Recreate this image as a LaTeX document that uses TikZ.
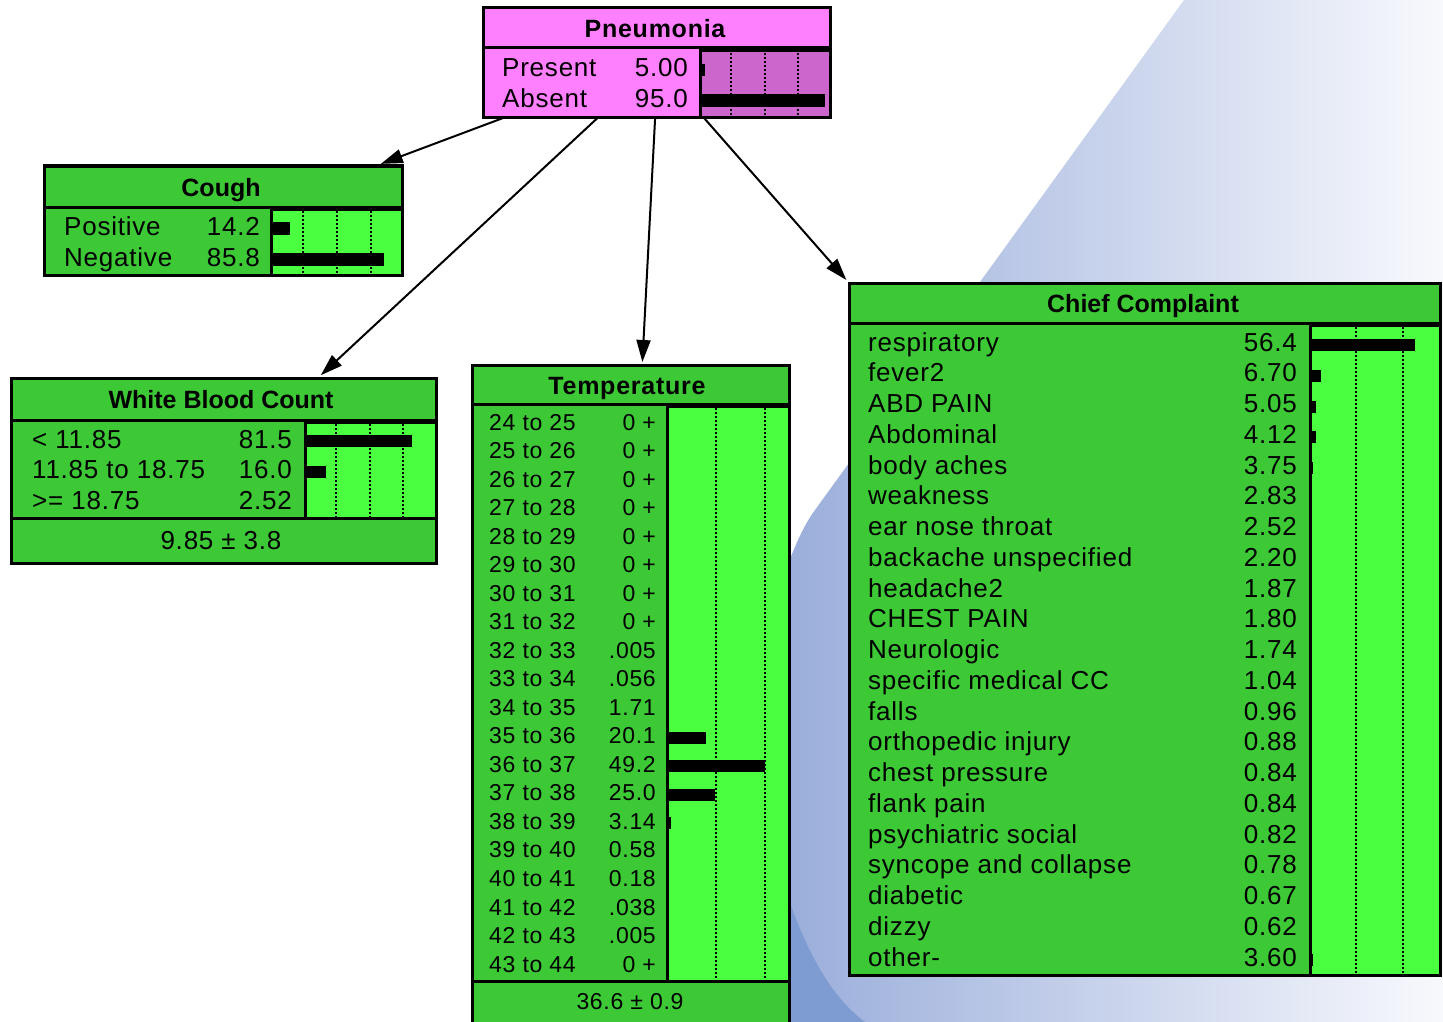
\documentclass[tikz,border=0pt]{standalone}
\usepackage{fontspec}
\setmainfont{Liberation Sans}
\newfontfamily\netfont[LetterSpace=3]{Liberation Sans}
\newfontfamily\wideft[LetterSpace=3]{Liberation Sans}
\usepackage{tikz}
\usetikzlibrary{arrows.meta,calc}

\definecolor{ndgreen}{RGB}{61,201,54}
\definecolor{bargreen}{RGB}{74,255,64}
\definecolor{ndpink}{RGB}{255,128,255}
\definecolor{barpink}{RGB}{204,102,204}
\definecolor{bgblue}{RGB}{142,164,214}
\definecolor{bgdark}{RGB}{126,156,210}
\definecolor{bgwhite}{RGB}{248,249,253}

\begin{document}
\begin{tikzpicture}[x=1pt,y=-1pt,>={Triangle[length=22pt,width=14pt]},
  nbox/.style={draw,line width=3pt,anchor=north west,inner sep=0pt,outer sep=0pt},
  ttl/.style={font=\fontsize{25}{27}\selectfont\bfseries,anchor=base,inner sep=0pt},
  wttl/.style={font=\wideft\fontsize{25}{27}\selectfont\bfseries,anchor=base,inner sep=0pt},
  lab/.style={font=\netfont\fontsize{26}{28}\selectfont,anchor=base west,inner sep=0pt},
  val/.style={font=\netfont\fontsize{26}{28}\selectfont,anchor=base east,inner sep=0pt},
  mean/.style={font=\netfont\fontsize{26}{28}\selectfont,anchor=base,inner sep=0pt},
  small/.style={font=\netfont\fontsize{23}{25}\selectfont},
  sepl/.style={line width=3pt},
  barbox/.style={line width=3pt},
  tick/.style={line width=2pt,dash pattern=on 2pt off 2pt},
  link/.style={->,line width=2pt}]
  \useasboundingbox (0,0) rectangle (1443,1022);
  % backdrop
  \shade[left color=bgblue,right color=bgwhite] (1184,0) -- (815,510)
    .. controls (770,570) and (720,800) .. (700,1022) -- (1443,1022) -- (1443,0) -- cycle;
  \fill[bgdark] (789,900) .. controls (810,960) and (835,1000) .. (865,1022) -- (700,1022) -- cycle;

  % Pneumonia
  \node[nbox,fill=ndpink,minimum width=347pt,minimum height=110pt] (pneu) at (483,8) {};
  \draw[sepl] (483,48) -- (830,48);
  \draw[barbox,fill=barpink] (700,51) rectangle (830,118);
  \foreach \x in {731,765,798} \draw[tick] (\x,53) -- (\x,117);
  \fill (700,64) rectangle (705,76);
  \fill (700,94) rectangle (825,107);
  \node[wttl] (pneu-t) at (655,38) {Pneumonia};
  \node[lab] (pneu-l0) at (502,77) {Present};
  \node[val] (pneu-v0) at (688,77) {5.00};
  \node[lab] (pneu-l1) at (502,108) {Absent};
  \node[val] (pneu-v1) at (688,108) {95.0};

  % Cough
  \node[nbox,fill=ndgreen,minimum width=358pt,minimum height=109pt] (cough) at (44,166) {};
  \draw[sepl] (44,207) -- (402,207);
  \draw[barbox,fill=bargreen] (271,209) rectangle (402,275);
  \foreach \x in {303,337,371} \draw[tick] (\x,211) -- (\x,274);
  \fill (271,222) rectangle (290,235);
  \fill (271,253) rectangle (384,266);
  \node[ttl] (cough-t) at (221,196) {Cough};
  \node[lab] (cough-l0) at (64,235) {Positive};
  \node[val] (cough-v0) at (260,235) {14.2};
  \node[lab] (cough-l1) at (64,266) {Negative};
  \node[val] (cough-v1) at (260,266) {85.8};

  % White Blood Count
  \node[nbox,fill=ndgreen,minimum width=425pt,minimum height=185pt] (wbc) at (11,378) {};
  \draw[sepl] (11,420) -- (436,420);
  \draw[barbox,fill=bargreen] (305,422) rectangle (436,518);
  \foreach \x in {336,370,403} \draw[tick] (\x,424) -- (\x,517);
  \fill (305,435) rectangle (412,447);
  \fill (305,466) rectangle (326,478);
  \draw[sepl] (11,518) -- (436,518);
  \node[ttl] (wbc-t) at (221,408) {White Blood Count};
  \foreach \lbl/\v [count=\i from 0] in {< 11.85/81.5, 11.85 to 18.75/16.0, >= 18.75/2.52} {
    \node[lab] (wbc-l\i) at (32,{448+30.5*\i}) {\lbl};
    \node[val] (wbc-v\i) at (292,{448+30.5*\i}) {\v};
  }
  \node[mean] (wbc-m) at (221,549) {9.85 ± 3.8};

  % Temperature
  \node[nbox,fill=ndgreen,minimum width=317pt,minimum height=659pt] (temp) at (472,365) {};
  \draw[sepl] (472,404) -- (789,404);
  \draw[barbox,fill=bargreen] (667,406) rectangle (789,981);
  \foreach \x in {716,765} \draw[tick] (\x,408) -- (\x,980);
  \foreach \i/\w in {11/39,12/98,13/48,14/4}
    \fill (667,{418+28.53*\i}) rectangle ++(\w,12);
  \draw[sepl] (472,981) -- (789,981);
  \node[wttl] (temp-t) at (627,394) {Temperature};
  \foreach \lbl/\v [count=\i from 0] in {24 to 25/0 +, 25 to 26/0 +, 26 to 27/0 +,
      27 to 28/0 +, 28 to 29/0 +, 29 to 30/0 +, 30 to 31/0 +, 31 to 32/0 +,
      32 to 33/.005, 33 to 34/.056, 34 to 35/1.71, 35 to 36/20.1, 36 to 37/49.2,
      37 to 38/25.0, 38 to 39/3.14, 39 to 40/0.58, 40 to 41/0.18, 41 to 42/.038,
      42 to 43/.005, 43 to 44/0 +} {
    \node[lab,small] (temp-l\i) at (489,{430+28.53*\i}) {\lbl};
    \node[val,small] (temp-v\i) at (656,{430+28.53*\i}) {\v};
  }
  \node[mean,small] (temp-m) at (630,1009) {36.6 ± 0.9};

  % Chief Complaint
  \node[nbox,fill=ndgreen,minimum width=591pt,minimum height=692pt] (cc) at (849,283) {};
  \draw[sepl] (849,323) -- (1440,323);
  \draw[barbox,fill=bargreen] (1310,325) rectangle (1440,975);
  \foreach \x in {1356,1403} \draw[tick] (\x,327) -- (\x,974);
  \foreach \i/\w in {0/105,1/11,2/6,3/6,4/3,20/3}
    \fill (1310,{339+30.75*\i}) rectangle ++(\w,12);
  \node[ttl] (cc-t) at (1143,312) {Chief Complaint};
  \foreach \lbl/\v [count=\i from 0] in {respiratory/56.4, fever2/6.70, ABD PAIN/5.05,
      Abdominal/4.12, body aches/3.75, weakness/2.83, ear nose throat/2.52,
      backache unspecified/2.20, headache2/1.87, CHEST PAIN/1.80, Neurologic/1.74,
      specific medical CC/1.04, falls/0.96, orthopedic injury/0.88, chest pressure/0.84,
      flank pain/0.84, psychiatric social/0.82, syncope and collapse/0.78,
      diabetic/0.67, dizzy/0.62, other-/3.60} {
    \node[lab] (cc-l\i) at (868,{351+30.75*\i}) {\lbl};
    \node[val] (cc-v\i) at (1297,{351+30.75*\i}) {\v};
  }

  % links out of Pneumonia
  \draw[link,shorten >=6pt] ($(pneu.south west)!0.058!(pneu.south east)$) -- ($(cough.north west)!0.925!(cough.north east)$);
  \draw[link,shorten >=4pt] ($(pneu.south west)!0.33!(pneu.south east)$) -- ($(wbc.north west)!0.722!(wbc.north east)$);
  \draw[link,shorten >=3pt] ($(pneu.south west)!0.496!(pneu.south east)$) -- ($(temp.north west)!0.537!(temp.north east)$);
  \draw[link,shorten >=4pt] ($(pneu.south west)!0.637!(pneu.south east)$) -- (cc.north west);
\end{tikzpicture}
\end{document}
